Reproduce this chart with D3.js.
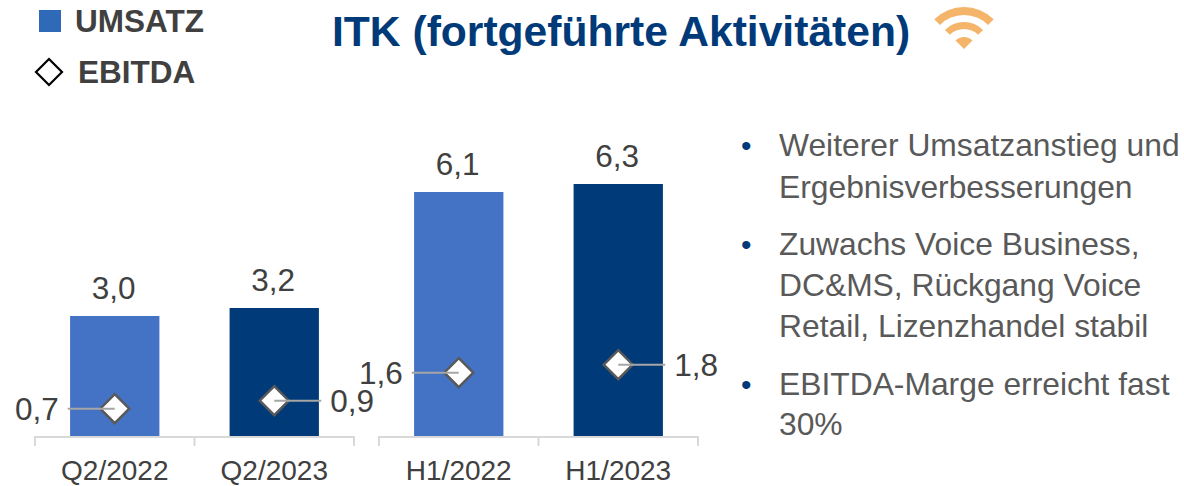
<!DOCTYPE html>
<html><head><meta charset="utf-8">
<script src="https://cdn.jsdelivr.net/npm/d3@7"></script>
<style>html,body{margin:0;padding:0;background:#fff}svg{display:block;font-family:"Liberation Sans",Arial,sans-serif}</style>
</head><body><svg id="c" width="1184" height="486"></svg>
<script>
const groupA = ["Q2/2022","Q2/2023"];
const groupB = ["H1/2022","H1/2023"];
const umsatzA = [3.0,3.2];
const umsatzB = [6.1,6.3];
const ebitdaA = [0.7,0.9];
const ebitdaB = [1.6,1.8];
const barColors = ["#4472C4","#003A79"];
const title = "ITK (fortgeführte Aktivitäten)";
const legendLabels = ["UMSATZ","EBITDA"];
const bullets = [
  ["Weiterer Umsatzanstieg und","Ergebnisverbesserungen"],
  ["Zuwachs Voice Business,","DC&MS, Rückgang Voice","Retail, Lizenzhandel stabil"],
  ["EBITDA-Marge erreicht fast","30%"]
];
const fmt = v => v.toFixed(1).replace(".",",");
const svg = d3.select("#c");
const y = d3.scaleLinear().domain([0,6.3]).range([436,184]);
const diamond = r => `M0,${-r}L${r},0L0,${r}L${-r},0Z`;

function panel(cats, bars, ebitda, x0, x1){
  const x = d3.scaleBand().domain(cats).range([x0,x1]).paddingInner(.44).paddingOuter(.22);
  const g = svg.append("g");
  const axis = g.append("g").attr("transform","translate(0,437)")
    .call(d3.axisBottom(x).tickSize(0).tickPadding(23));
  axis.select(".domain").remove();
  axis.selectAll("text").attr("font-size",28).attr("fill","#404040").attr("font-family","Liberation Sans");
  const mid = (x0+x1)/2;
  g.append("path").attr("fill","none").attr("stroke","#D9D9D9").attr("stroke-width",2)
   .attr("d",`M${x0},446V437H${x1}V446M${mid},437V446`);
  g.selectAll("rect").data(cats).join("rect")
   .attr("x",d=>x(d)).attr("width",x.bandwidth())
   .attr("y",(d,i)=>y(bars[i])).attr("height",(d,i)=>y(0)-y(bars[i]))
   .attr("fill",(d,i)=>barColors[i]);
  g.selectAll(".v").data(cats).join("text").attr("class","v")
   .attr("x",d=>x(d)+x.bandwidth()/2-1).attr("y",(d,i)=>y(bars[i])-17.5)
   .attr("text-anchor","middle").attr("font-size",31.5).attr("fill","#404040")
   .text((d,i)=>fmt(bars[i]));
  cats.forEach((c,i)=>{
    const cx = x(c)+x.bandwidth()/2, cy = y(ebitda[i])+0.7, s = i===0?-1:1;
    g.append("path").attr("d",diamond(14.5)).attr("transform",`translate(${cx},${cy})`)
     .attr("fill","#fff").attr("stroke","#595959").attr("stroke-width",2.5);
    g.append("line").attr("x1",cx).attr("x2",cx+s*47).attr("y1",cy).attr("y2",cy)
     .attr("stroke","#A6A6A6").attr("stroke-width",2);
    g.append("text").attr("x",cx+s*56).attr("y",cy+11)
     .attr("text-anchor",s<0?"end":"start").attr("font-size",31.5).attr("fill","#404040")
     .text(fmt(ebitda[i]));
  });
}
panel(groupA,umsatzA,ebitdaA,35,354);
panel(groupB,umsatzB,ebitdaB,379,698);

// Legend
svg.append("rect").attr("x",39).attr("y",10).attr("width",22).attr("height",22).attr("fill","#2F6AB8");
svg.append("text").attr("x",75).attr("y",32).attr("font-size",31.5).attr("font-weight",700).attr("fill","#404040").text(legendLabels[0]);
svg.append("path").attr("d",diamond(13)).attr("transform","translate(49,72)").attr("fill","#fff").attr("stroke","#000").attr("stroke-width",2.2);
svg.append("text").attr("x",78).attr("y",83).attr("font-size",31.5).attr("font-weight",700).attr("fill","#404040").text(legendLabels[1]);

// Title
svg.append("text").attr("x",332).attr("y",46).attr("font-size",42.6).attr("font-weight",700).attr("fill","#003A79").text(title);

// Wifi icon
const wifi = svg.append("g").attr("transform","translate(964,49)").attr("fill","#F4B469");
const arc = d3.arc().startAngle(-Math.PI/4).endAngle(Math.PI/4);
[[0,12],[20,27],[34,42]].forEach(([a,b])=>{
  wifi.append("path").attr("d",arc({innerRadius:a,outerRadius:b}));
});

// Bullets
const tops = [[156,198],[255,296,337],[395,435]];
bullets.forEach((lines,i)=>{
  svg.append("text").attr("x",741).attr("y",tops[i][0]).attr("font-size",30).attr("fill","#003A79").text("•");
  lines.forEach((t,j)=>svg.append("text").attr("x",779).attr("y",tops[i][j]).attr("font-size",31.8).attr("fill","#595959").text(t));
});
</script></body></html>
